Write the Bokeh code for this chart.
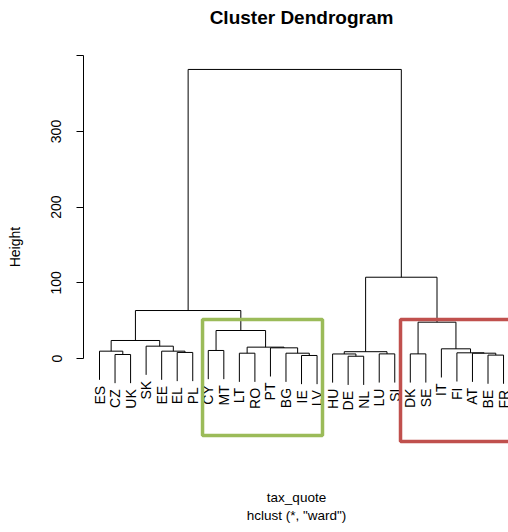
import math
from bokeh.plotting import figure
from bokeh.models import FixedTicker, Range1d, ColumnDataSource
from bokeh.core.properties import value
from bokeh.embed import file_html
from bokeh.resources import INLINE

# ---------------- data ----------------
leaf_labels = ["ES", "CZ", "UK", "SK", "EE", "EL", "PL", "CY", "MT", "LT", "RO", "PT",
               "BG", "IE", "LV", "HU", "DE", "NL", "LU", "SI", "DK", "SE", "IT", "FI",
               "AT", "BE", "FR"]

# hclust-style merges: strings are leaves, ints are earlier merges (1-based)
merge_left = ["DE", "IE", "BE", "CZ", "HU", "LU", "DK", "AT", "EL", "LT", "BG", "FI", 5,
              "ES", "EE", "CY", "IT", "PT", 10, "SK", 14, 16, 7, 21, 13, 24]
merge_right = ["NL", "LV", "FR", "UK", 1, "SI", "SE", 3, "PL", "RO", 2, 8, 6,
               4, 9, "MT", 12, 11, 18, 15, 20, 19, 17, 22, 23, 25]
merge_height = [3.0, 4.0, 4.5, 5.3, 6.0, 6.1, 6.1, 7.0, 8.0, 7.0, 7.0, 7.5, 9.0,
                9.7, 9.7, 10.6, 12.8, 14.1, 15.0, 16.3, 23.8, 37.0, 48.0, 63.4, 107.4, 382.0]

y_ticks = [0, 100, 200, 300, 400]
y_tick_labels = ["0", "100", "200", "300", ""]

title_text = "Cluster Dendrogram"
y_title = "Height"
sub_texts = ["tax_quote", 'hclust (*, "ward")']

# highlighted clusters (first leaf, last leaf, colour)
box_first = ["CY", "DK"]
box_last = ["LV", "FR"]
box_colors = ["#9BBB59", "#C0504D"]

# ---------------- layout / style ----------------
FONT = "Liberation Sans"
W, H = 508, 532
LEFT = 83
HANG = 0.1 * (max(merge_height) - min(merge_height))
LABEL_GAP = 8.0
BOX_TOP = 51.5
BOX_BOTTOMS = [-101.8, -109.7]
BOX_PAD_L = [0.37, 0.63]
BOX_PAD_R = [0.35, 0.9]
px_per_leaf = 15.54
px_per_unit = 0.7567
ZERO_PX = 358          # screen row of height 0
FIRST_LEAF_PX = 99     # screen column of first leaf
TITLE_PX = (301, 17)
SUB_PX = [(296, 497), (296, 515)]
YTITLE_PAD = 10        # non-breaking spaces that lift the y title above frame centre

# ---------------- tree geometry ----------------
pos = {lab: i + 1 for i, lab in enumerate(leaf_labels)}

def node_x(n, cx):
    return pos[n] if isinstance(n, str) else cx[n - 1]

cx = []
x0, y0, x1, y1 = [], [], [], []
leaf_bottom = {}
for l, r, h in zip(merge_left, merge_right, merge_height):
    xl, xr = node_x(l, cx), node_x(r, cx)
    for c, xc in ((l, xl), (r, xr)):
        if isinstance(c, str):
            yb = h - HANG
            leaf_bottom[c] = yb
        else:
            yb = merge_height[c - 1]
        x0.append(xc); y0.append(yb); x1.append(xc); y1.append(h)
    x0.append(xl); y0.append(h); x1.append(xr); y1.append(h)
    cx.append((xl + xr) / 2.0)

# ---------------- figure ----------------
frame_w = W - LEFT
x_start = 1 - (FIRST_LEAF_PX - LEFT) / px_per_leaf
x_end = x_start + frame_w / px_per_leaf
y_end = ZERO_PX / px_per_unit
y_start = y_end - H / px_per_unit

def sx(px):
    return x_start + (px - LEFT) / px_per_leaf

def sy(py):
    return y_end - py / px_per_unit

p = figure(width=W, height=H, output_backend="svg", toolbar_location=None,
           x_axis_type=None, x_range=Range1d(x_start, x_end),
           y_range=Range1d(y_start, y_end),
           min_border_left=LEFT, min_border_right=0, min_border_top=0,
           min_border_bottom=0)
p.outline_line_color = None
p.grid.visible = False
p.background_fill_color = "white"
p.border_fill_color = "white"

ax = p.yaxis[0]
ax.ticker = FixedTicker(ticks=y_ticks)
ax.major_label_overrides = {t: s for t, s in zip(y_ticks, y_tick_labels)}
ax.bounds = (min(y_ticks), max(y_ticks))
ax.minor_tick_line_color = None
ax.major_tick_out = 7
ax.major_tick_in = 0
ax.major_label_orientation = "vertical"
ax.major_label_standoff = 15
ax.major_label_text_font = FONT
ax.major_label_text_font_size = "14px"
ax.major_label_text_color = "black"
ax.axis_line_color = "black"
ax.major_tick_line_color = "black"
ax.axis_label = "\u00a0" * YTITLE_PAD + y_title
ax.axis_label_text_font = FONT
ax.axis_label_text_font_size = "14px"
ax.axis_label_text_font_style = "normal"
ax.axis_label_text_color = "black"
ax.axis_label_standoff = 26

p.segment(x0=x0, y0=y0, x1=x1, y1=y1, line_color="black", line_width=1)

lab_src = ColumnDataSource(dict(
    x=[pos[l] for l in leaf_labels],
    y=[leaf_bottom[l] - LABEL_GAP for l in leaf_labels],
    text=leaf_labels))
p.text(x="x", y="y", text="text", source=lab_src, angle=math.pi / 2,
       text_align="right", text_baseline="middle", text_font=value(FONT),
       text_font_size="14px", text_color="black")

for f, l, col, yb, pl, pr in zip(box_first, box_last, box_colors, BOX_BOTTOMS,
                                  BOX_PAD_L, BOX_PAD_R):
    p.quad(left=[pos[f] - pl], right=[pos[l] + pr], top=[BOX_TOP], bottom=[yb],
           fill_color=None, line_color=col, line_width=3.5)

# title and sub-captions
p.text(x=[sx(TITLE_PX[0])], y=[sy(TITLE_PX[1])], text=[title_text],
       text_align="center", text_baseline="middle", text_font=value(FONT),
       text_font_size="19px", text_font_style="bold", text_color="black")
p.text(x=[sx(a) for a, b in SUB_PX], y=[sy(b) for a, b in SUB_PX], text=sub_texts,
       text_align="center", text_baseline="middle", text_font=value(FONT),
       text_font_size="13.5px", text_color="black")

open("out.html", "w").write(file_html(p, INLINE))
